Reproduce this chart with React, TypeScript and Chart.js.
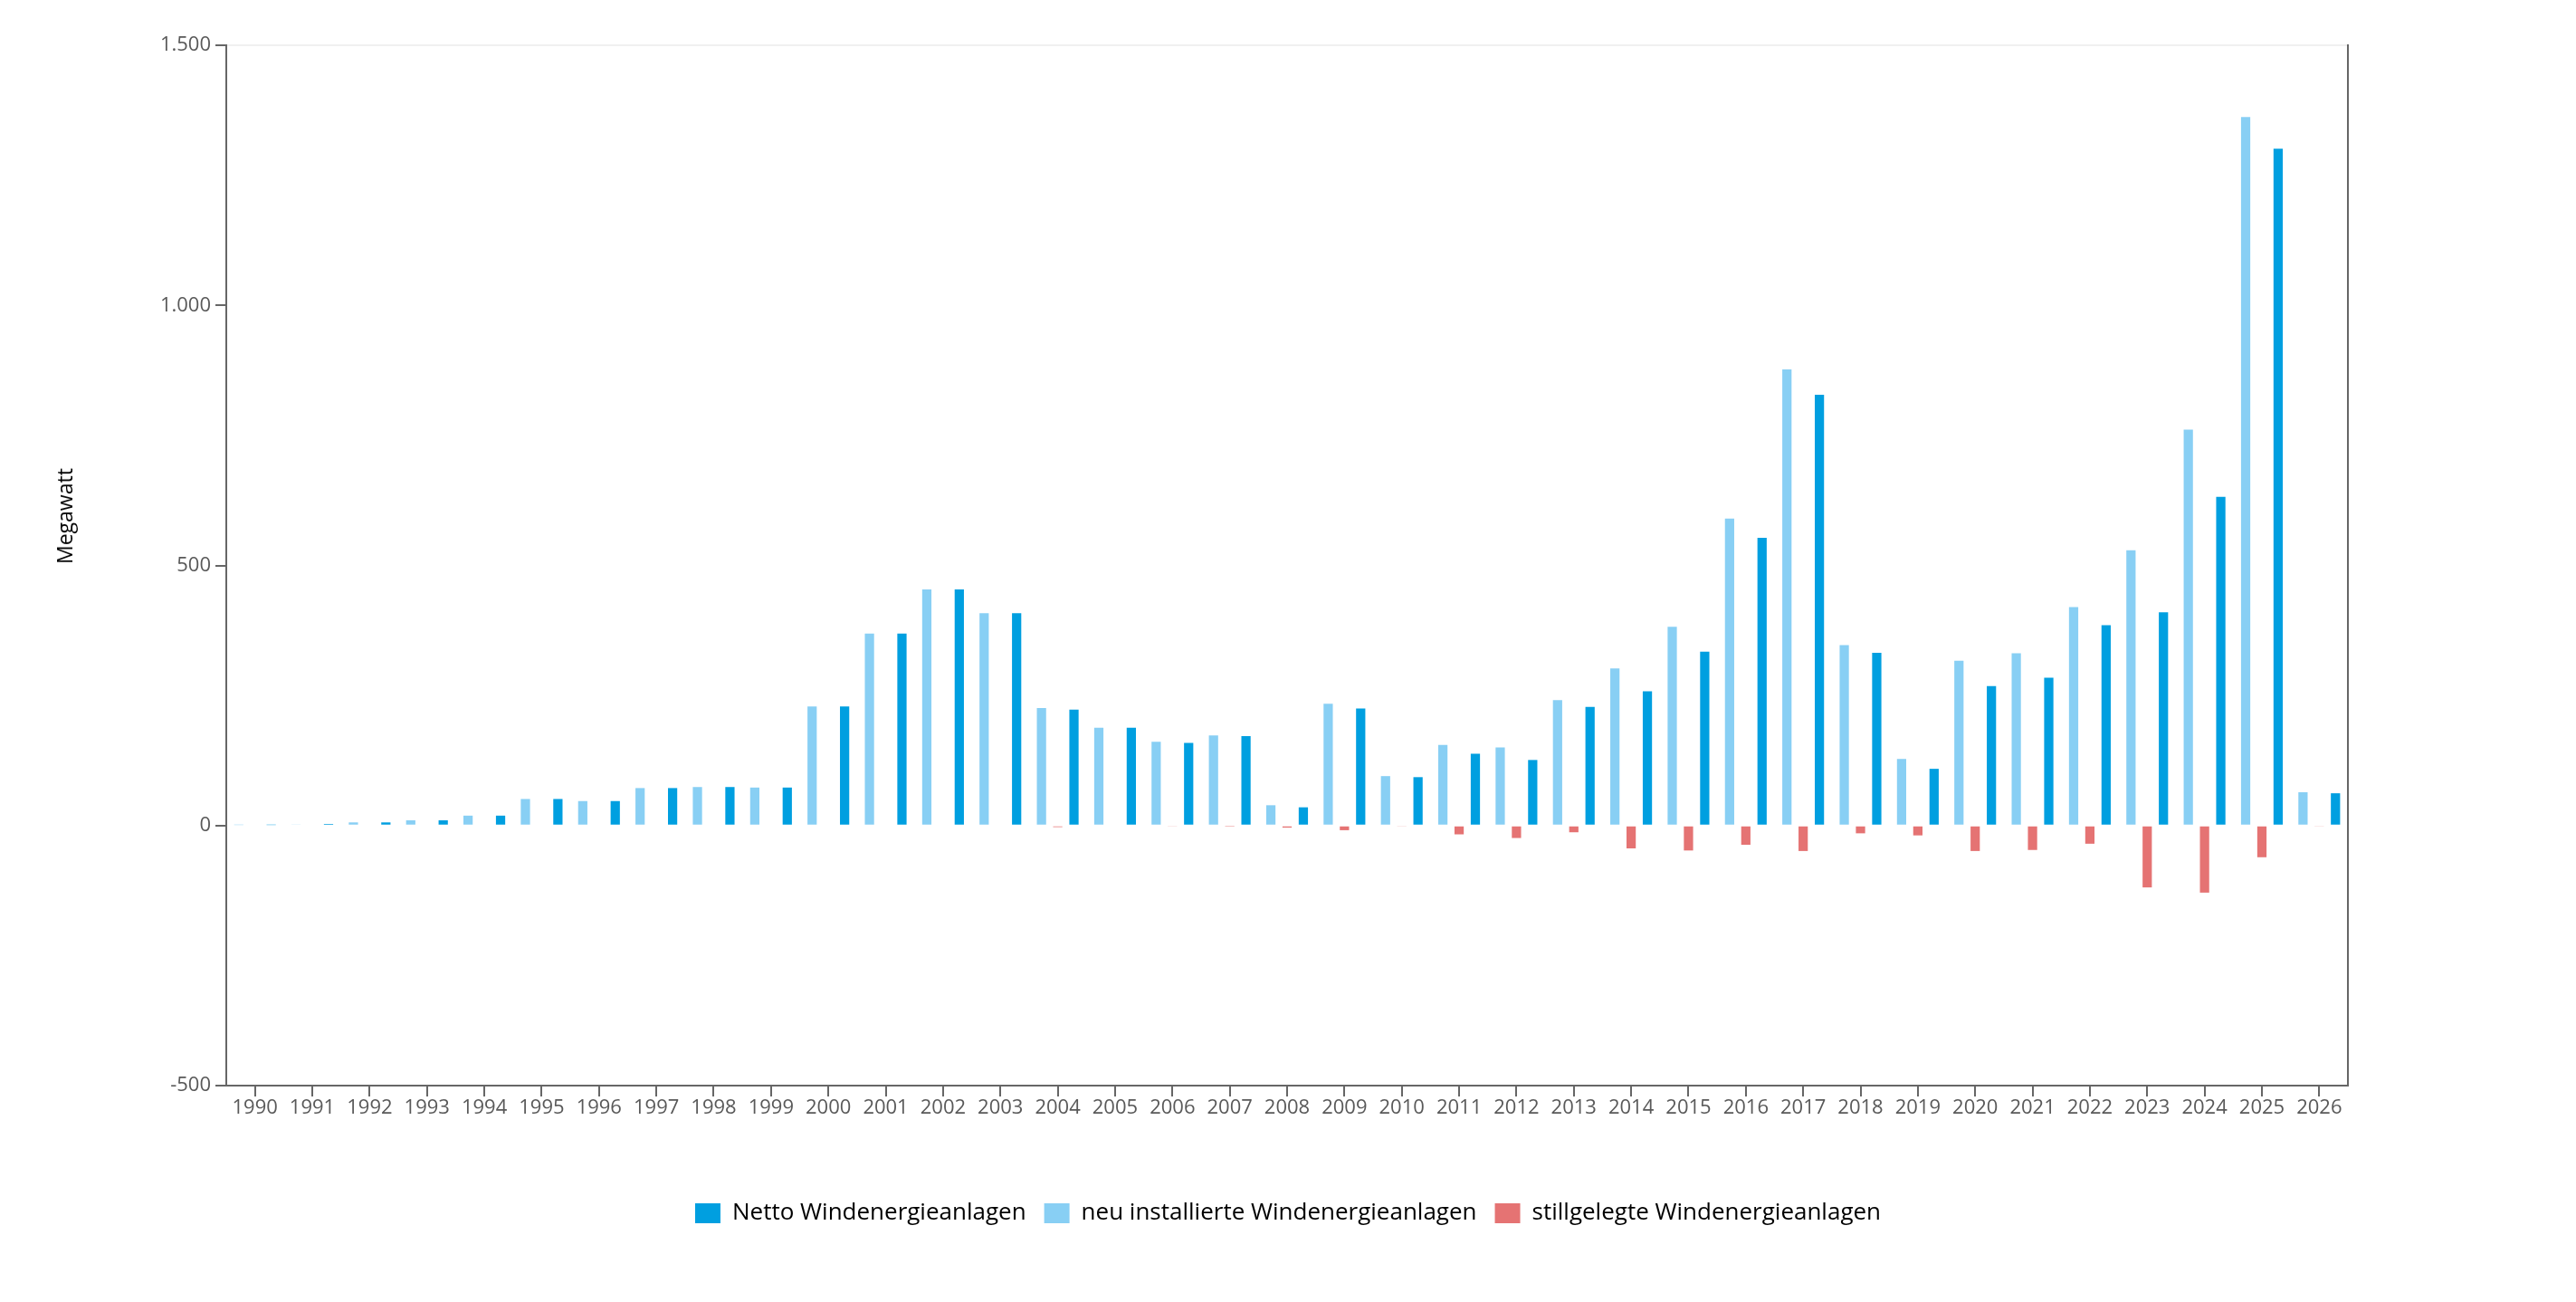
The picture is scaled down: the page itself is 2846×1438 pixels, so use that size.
import React, { useEffect, useRef } from 'react';
import Chart from 'chart.js/auto';

// Jahre 1990 - 2026
const years = [
  '1990', '1991', '1992', '1993', '1994', '1995', '1996', '1997', '1998', '1999',
  '2000', '2001', '2002', '2003', '2004', '2005', '2006', '2007', '2008', '2009',
  '2010', '2011', '2012', '2013', '2014', '2015', '2016', '2017', '2018', '2019',
  '2020', '2021', '2022', '2023', '2024', '2025', '2026',
];

// Megawatt
const neuInstalliert = [
  1, 2, 6, 10, 19, 51, 47, 72, 74, 73,
  229, 369, 454, 408, 226, 188, 161, 173, 39, 234,
  95, 155, 150, 241, 302, 382, 590, 877, 347, 128,
  317, 331, 420, 529, 761, 1362, 64,
];

const stillgelegt = [
  0, 0, 0, 0, 0, 0, 0, 0, 0, 0,
  0, 0, 0, 0, -3, 0, -2, -1, -4, -9,
  -2, -17, -24, -13, -44, -48, -37, -49, -15, -19,
  -49, -47, -35, -119, -129, -61, -2,
];

const netto = [
  1, 3, 6, 10, 19, 51, 47, 72, 74, 73,
  229, 369, 454, 408, 223, 188, 159, 172, 35, 225,
  93, 138, 126, 228, 258, 334, 553, 828, 332, 109,
  268, 284, 385, 410, 632, 1301, 62,
];

const yTicks = [-500, 0, 500, 1000, 1500];

// Legende: Netto zuerst, Balken aber in Reihenfolge neu / stillgelegt / netto
const legendRank = [1, 2, 0];

const FONT = '"Open Sans", "Noto Sans", sans-serif';
const AXIS = '#666666';
const TICK_TEXT = '#595959';

const formatDe = (v: number) => String(v).replace(/\B(?=(\d{3})+(?!\d))/g, '.');

export default function App() {
  const canvasRef = useRef<HTMLCanvasElement>(null);
  const chartRef = useRef<Chart | null>(null);

  useEffect(() => {
    if (!canvasRef.current) return;
    const ctx = canvasRef.current.getContext('2d');
    if (!ctx) return;

    if (chartRef.current) chartRef.current.destroy();

    chartRef.current = new Chart(ctx, {
      type: 'bar',
      data: {
        labels: years,
        datasets: [
          {
            label: 'neu installierte Windenergieanlagen',
            data: neuInstalliert,
            backgroundColor: '#88cff4',
            borderWidth: 0,
          },
          {
            label: 'stillgelegte Windenergieanlagen',
            data: stillgelegt,
            backgroundColor: '#e57373',
            borderWidth: 0,
          },
          {
            label: 'Netto Windenergieanlagen',
            data: netto,
            backgroundColor: '#009fe0',
            borderWidth: 0,
          },
        ],
      },
      options: {
        animation: false,
        responsive: true,
        maintainAspectRatio: false,
        layout: { padding: { top: 50, right: 0, bottom: 75, left: 0 } },
        datasets: {
          bar: { categoryPercentage: 0.85, barPercentage: 0.57 },
        },
        plugins: {
          legend: {
            position: 'bottom',
            labels: {
              boxWidth: 28,
              boxHeight: 22,
              padding: 20,
              color: '#000000',
              font: { family: FONT, size: 26 },
              sort: (a, b) => legendRank[a.datasetIndex ?? 0] - legendRank[b.datasetIndex ?? 0],
            },
          },
          tooltip: { enabled: false },
        },
        scales: {
          x: {
            offset: true,
            afterFit: (scale) => {
              scale.height = 108;
            },
            grid: {
              offset: false,
              drawOnChartArea: false,
              drawTicks: true,
              tickLength: 12,
              color: AXIS,
              lineWidth: 2,
            },
            border: { display: true, color: AXIS, width: 2 },
            ticks: {
              padding: 0,
              color: TICK_TEXT,
              maxRotation: 0,
              autoSkip: false,
              font: { family: FONT, size: 22 },
            },
          },
          y: {
            min: -500,
            max: 1500,
            afterFit: (scale) => {
              scale.width = 250;
            },
            afterBuildTicks: (scale) => {
              scale.ticks = yTicks.map((v) => ({ value: v }));
            },
            grid: {
              drawTicks: true,
              tickLength: 12,
              lineWidth: 2,
              tickColor: AXIS,
              color: (c) => (c.tick && c.tick.value === 1500 ? '#f0f0f0' : 'rgba(0,0,0,0)'),
            },
            border: { display: true, color: AXIS, width: 2 },
            ticks: {
              padding: 5,
              color: TICK_TEXT,
              font: { family: FONT, size: 22 },
              callback: (value) => formatDe(Number(value)),
            },
          },
          yRight: {
            position: 'right',
            afterFit: (scale) => {
              scale.width = 252;
            },
            grid: { drawOnChartArea: false, drawTicks: false },
            border: { display: true, color: AXIS, width: 2 },
            ticks: { display: false },
          },
        },
      },
    });

    return () => {
      if (chartRef.current) {
        chartRef.current.destroy();
        chartRef.current = null;
      }
    };
  }, []);

  return (
    <div style={{ position: 'fixed', left: 0, top: 0, width: '100vw', height: '100vh', background: '#fff' }}>
      <canvas ref={canvasRef}></canvas>
      <div
        style={{
          position: 'absolute',
          left: 71,
          top: 570,
          transform: 'translate(-50%, -50%) rotate(-90deg)',
          fontFamily: FONT,
          fontSize: 23,
          color: '#000',
          whiteSpace: 'nowrap',
        }}
      >
        Megawatt
      </div>
    </div>
  );
}
